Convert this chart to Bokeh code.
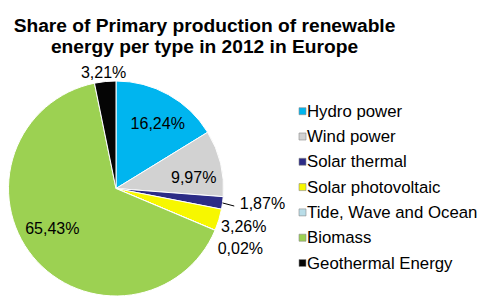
import math
from bokeh.plotting import figure
from bokeh.models import ColumnDataSource, Range1d
from bokeh.core.properties import value
from bokeh.embed import file_html
from bokeh.resources import INLINE

# ---- data ----
categories = ["Hydro power", "Wind power", "Solar thermal", "Solar photovoltaic",
              "Tide, Wave and Ocean", "Biomass", "Geothermal Energy"]
shares = [16.24, 9.97, 1.87, 3.26, 0.02, 65.43, 3.21]
colors = ["#00B5EF", "#D2D2D2", "#2C2C86", "#F7F700", "#B9DDE8", "#9CD152", "#050505"]
title_lines = ["Share of Primary production of renewable", "energy per type in 2012 in Europe"]

# ---- layout (screen px of the picture) ----
W, H = 477, 302
def sy(y):  # screen y -> data y
    return H - y

CX, CY, R = 115.5, sy(188), 107.5
FONT = "Liberation Sans"
# per-label placement: (radius factor, angle nudge deg, align)
label_place = [(0.72, 3.4, "center"), (0.73, 5.5, "center"), (1.16, -0.6, "left"),
               (1.04, 3.0, "left"), (1.10, 7.8, "left"), (0.70, 7.1, "center"),
               (1.085, -0.3, "center")]

p = figure(width=W, height=H, output_backend="svg", toolbar_location=None,
           x_range=Range1d(0, W), y_range=Range1d(0, H),
           min_border=0, outline_line_color=None)
p.axis.visible = False
p.grid.visible = False
p.background_fill_color = "white"
p.border_fill_color = "white"

total = sum(shares)
starts, ends, mids = [], [], []
acc = 0.0
for v in shares:
    starts.append(math.pi / 2 - 2 * math.pi * acc / total)
    mids.append(360.0 * (acc + v / 2) / total)
    acc += v
    ends.append(math.pi / 2 - 2 * math.pi * acc / total)

src = ColumnDataSource(dict(start=starts, end=ends, color=colors, cat=categories))
p.wedge(x=CX, y=CY, radius=R, start_angle="start", end_angle="end", direction="clock",
        fill_color="color", line_color="white", line_width=1, source=src)

# labels
for v, mid, (rf, nudge, align) in zip(shares, mids, label_place):
    th = math.radians(mid + nudge)
    lx = CX + rf * R * math.sin(th)
    ly = CY + rf * R * math.cos(th)
    txt = f"{v:.2f}".replace(".", ",") + "%"
    p.text(x=[lx], y=[ly], text=[txt], text_font=value(FONT), text_font_size="16px",
           text_align=align, text_baseline="middle", text_color="#000000")

# leader line for the solar thermal slice
th = math.radians(mids[2])
p.line(x=[CX + R * math.sin(th), CX + 1.11 * R * math.sin(th)],
       y=[CY + R * math.cos(th), CY + 1.11 * R * math.cos(th) - 1.5],
       line_color="#000000", line_width=1)

# legend
LX, LY0, LDY = 302, 110.7, 25.3
for i, (cat, col) in enumerate(zip(categories, colors)):
    yy = sy(LY0 + i * LDY)
    p.scatter(x=[LX], y=[yy], marker="square", size=7, fill_color=col,
              line_color="#8a8a8a", line_width=0.6)
    p.text(x=[LX + 4.5], y=[yy], text=[cat], text_font=value(FONT), text_font_size="16.8px",
           text_align="left", text_baseline="middle", text_color="#000000")

# title
for t, yb in zip(title_lines, [25, 46]):
    p.text(x=[204], y=[sy(yb)], text=[t], text_font=value(FONT), text_font_size="19.2px",
           text_font_style="bold", text_align="center", text_baseline="alphabetic",
           text_color="#000000")

open("out.html", "w").write(file_html(p, INLINE))
